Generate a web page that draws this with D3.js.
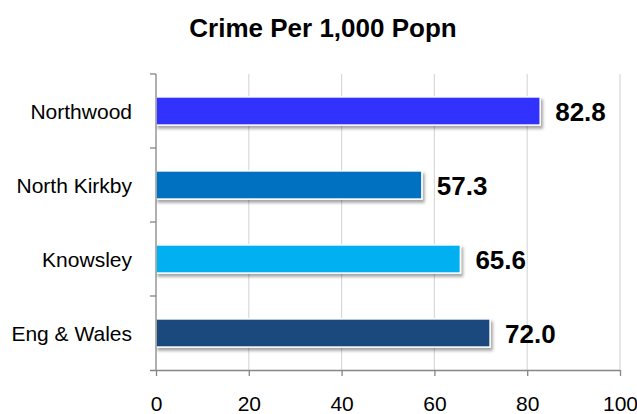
<!DOCTYPE html>
<html><head><meta charset="utf-8">
<script src="https://cdn.jsdelivr.net/npm/d3@7"></script>
<style>body{margin:0;background:#fff}svg{display:block;font-family:"Liberation Sans",Arial,sans-serif}</style>
</head><body><svg id="c" width="637" height="414"></svg>
<script>
const title = "Crime Per 1,000 Popn";
const categories = ["Northwood", "North Kirkby", "Knowsley", "Eng & Wales"];
const values = [82.8, 57.3, 65.6, 72.0];
const colors = ["#3333ff", "#0070c0", "#00b0f0", "#1f497d"];
const xTicks = [0, 20, 40, 60, 80, 100];

const svg = d3.select("#c");
const pLeft = 156, pRight = 620, pTop = 74, pBottom = 370;
const x = d3.scaleLinear().domain([0, 100]).range([pLeft, pRight]);
const y = d3.scaleBand().domain(categories).range([pTop, pBottom]).paddingInner(0.62).paddingOuter(0.31);
const axisColor = "#868686";

const defs = svg.append("defs");
const f = defs.append("filter").attr("id", "sh").attr("x", "-5%").attr("y", "-30%").attr("width", "115%").attr("height", "190%");
f.append("feDropShadow").attr("dx", 2).attr("dy", 3).attr("stdDeviation", 1.8).attr("flood-color", "#000").attr("flood-opacity", 0.35);

svg.append("text").attr("x", 323).attr("y", 37).attr("text-anchor", "middle")
  .attr("font-size", 26).attr("font-weight", "bold").attr("fill", "#000").text(title);

// gridlines
svg.append("g").selectAll("line").data(xTicks.slice(1)).join("line")
  .attr("x1", d => x(d)).attr("x2", d => x(d)).attr("y1", pTop).attr("y2", pBottom)
  .attr("stroke", "#d9d9d9").attr("stroke-width", 1.2);

// bars
svg.append("g").selectAll("rect").data(categories).join("rect")
  .attr("x", x(0)).attr("y", d => y(d)).attr("height", y.bandwidth())
  .attr("width", (d, i) => x(values[i]) - x(0))
  .attr("fill", (d, i) => colors[i]).attr("stroke", "#fff").attr("stroke-width", 1.5)
  .attr("filter", "url(#sh)");

// value labels
svg.append("g").selectAll("text").data(categories).join("text")
  .attr("x", (d, i) => x(values[i]) + 15).attr("y", d => y(d) + y.bandwidth() / 2 + 9.5)
  .attr("font-size", 26).attr("font-weight", "bold").attr("fill", "#000")
  .text((d, i) => values[i].toFixed(1));

// x axis
const xa = svg.append("g").attr("transform", `translate(0,${pBottom})`)
  .call(d3.axisBottom(x).tickValues(xTicks).tickSize(6).tickPadding(20).tickSizeOuter(0));
xa.select(".domain").attr("stroke", axisColor).attr("stroke-width", 1.3).attr("d", `M${pLeft - 6},0.5H${pRight}`);
xa.selectAll(".tick line").attr("stroke", axisColor).attr("stroke-width", 1.3);
xa.selectAll(".tick text").attr("font-size", 21).attr("fill", "#000").attr("font-family", "Liberation Sans, Arial, sans-serif");

// y axis
const ya = svg.append("g").attr("transform", `translate(${pLeft},0)`);
ya.append("line").attr("x1", 0).attr("x2", 0).attr("y1", pTop).attr("y2", pBottom).attr("stroke", axisColor).attr("stroke-width", 1.3);
const step = (pBottom - pTop) / categories.length;
const bounds = d3.range(categories.length).map(i => pTop + i * step);
ya.selectAll("line.t").data(bounds).join("line").attr("class", "t")
  .attr("x1", -6).attr("x2", 0).attr("y1", d => d).attr("y2", d => d)
  .attr("stroke", axisColor).attr("stroke-width", 1.3);
ya.selectAll("text").data(categories).join("text")
  .attr("x", -24).attr("y", d => y(d) + y.bandwidth() / 2 + 7.5)
  .attr("text-anchor", "end").attr("font-size", 21).attr("fill", "#000").text(d => d);
</script></body></html>
